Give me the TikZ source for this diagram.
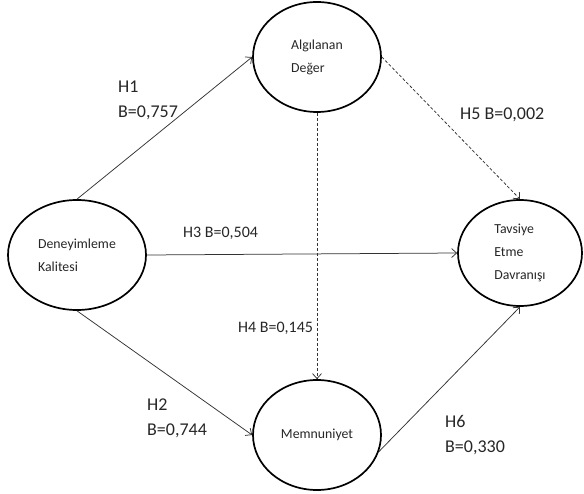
\documentclass[tikz,border=0pt]{standalone}
\usepackage{fontspec}
\setmainfont{Carlito}
\usetikzlibrary{shapes.geometric,arrows.meta}
\usetikzlibrary{positioning}

\begin{document}
\begin{tikzpicture}[x=1pt,y=-1pt]
	 \tikzstyle{construct}=[ellipse,draw,line width=1.7pt,align=left,inner sep=0pt,text=black!85,font=\fontsize{13.8}{23}\selectfont]
	 \tikzstyle{link} = [draw,line width=0.75pt,black!80,-{Straight Barb[length=5pt,width=9pt]}]
	 \tikzstyle{weak} = [link,densely dashed]
	 \tikzstyle{coef}=[align=left,anchor=west,inner sep=0pt,text=black!85,font=\fontsize{18}{25}\selectfont]
	 \useasboundingbox (0,0) rectangle (584,494);

	 \node[construct,minimum width=128pt,minimum height=110pt] (ad) at (317,57) {Algılanan\\Değer};
	 \node[construct,minimum width=138pt,minimum height=110pt] (dk) at (77,255) {Deneyimleme\\Kalitesi};
	 \node[construct,minimum width=124pt,minimum height=106pt] (tav) at (520,253) {Tavsiye\\Etme\\Davranışı};
	 \node[construct,minimum width=128pt,minimum height=110pt] (mem) at (317,435) {Memnuniyet};

	 \draw[link] (dk.north) -- (ad.west);
	 \draw[link] (dk.south) -- (mem.west);
	 \draw[link] (dk.east) -- (tav.west);
	 \draw[weak] (ad.south) -- (mem.north);
	 \draw[weak] (ad.east) -- (tav.north);
	 \draw[link] (mem.-15) -- (tav.south);

	 \node[coef] (h1) at (118,100) {H1\\B=0,757};
	 \node[coef,font=\fontsize{16}{20}\selectfont] (h3) at (183,233) {H3 B=0,504};
	 \node[coef] (h5) at (460,115) {H5 B=0,002};
	 \node[coef,font=\fontsize{16}{20}\selectfont] (h4) at (238,328) {H4 B=0,145};
	 \node[coef] (h2) at (147,418) {H2\\B=0,744};
	 \node[coef] (h6) at (445,435) {H6\\B=0,330};
\end{tikzpicture}
\end{document}
